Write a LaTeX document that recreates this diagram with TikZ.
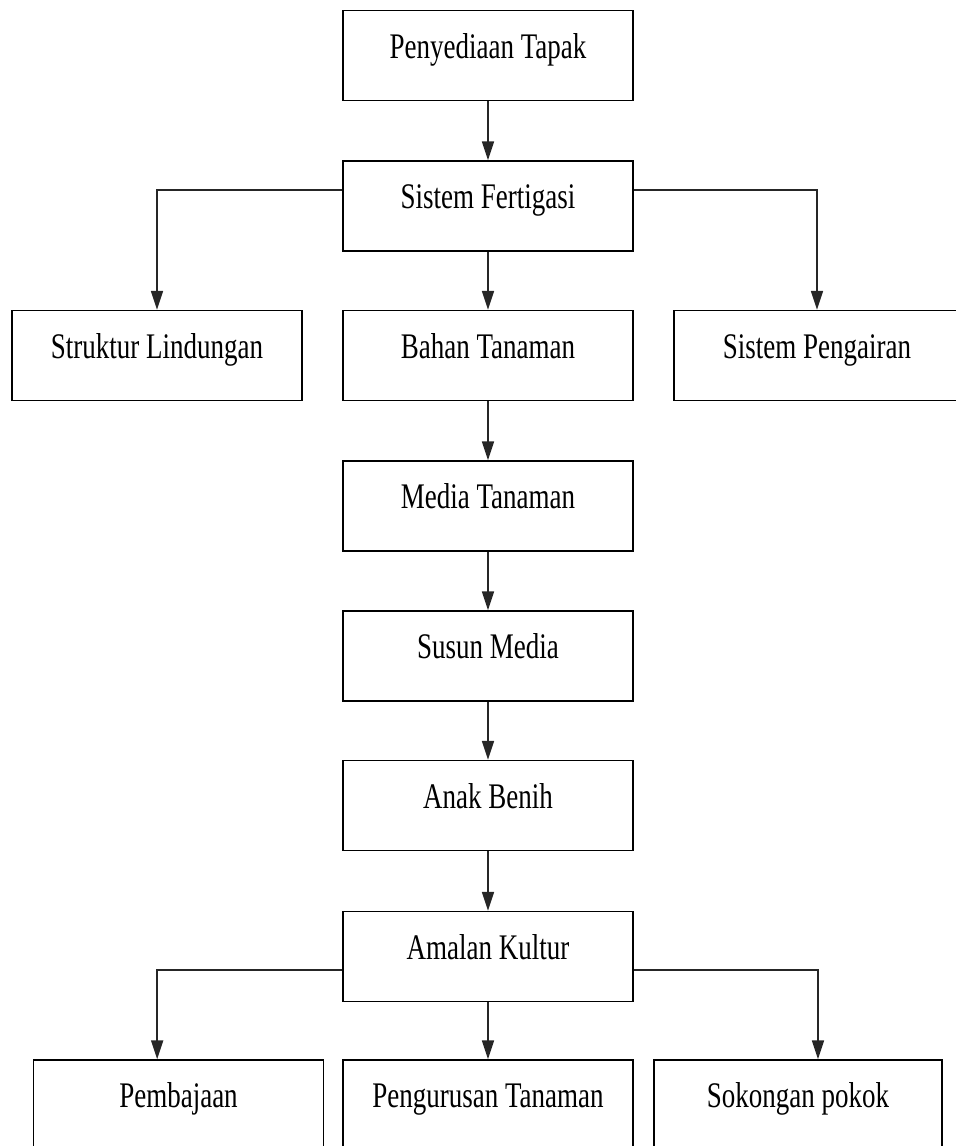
\documentclass[tikz,border=0pt]{standalone}
\usepackage{fontspec}
\setmainfont{Liberation Serif}[FakeStretch=0.75]
\usetikzlibrary{arrows.meta}

\tikzset{every picture/.style={line width=0.75pt}}
\tikzset{
	stagebox/.style={draw, line width=1.3pt, minimum width=217.5pt, minimum height=67.5pt, inner sep=0pt,
		text height=0.7em, text depth=0.3em, font=\fontsize{27pt}{31pt}\selectfont},
	flowarrow/.style={draw=black!85, line width=1.1pt, -{Triangle[length=14pt,width=9pt]}}
}

\begin{document}
\begin{tikzpicture}[x=0.75pt,y=0.75pt,yscale=-1,xscale=1]
	\useasboundingbox (0,0) rectangle (956,1146);

	% Main column
	\node [stagebox] (tapak) at (488,55.5) {Penyediaan Tapak};
	\node [stagebox] (fertigasi) at (488,206) {Sistem Fertigasi};
	\node [stagebox] (bahan) at (488,355.5) {Bahan Tanaman};
	\node [stagebox] (media) at (488,506) {Media Tanaman};
	\node [stagebox] (susun) at (488,656) {Susun Media};
	\node [stagebox] (anak) at (488,805.5) {Anak Benih};
	\node [stagebox] (amalan) at (488,956.5) {Amalan Kultur};

	% Side boxes, first level
	\node [stagebox] (struktur) at (157,355.5) {Struktur Lindungan};
	\node [stagebox, minimum width=214.5pt] (pengairan) at (817,355.5) {Sistem Pengairan};

	% Bottom row
	\node [stagebox] (pembajaan) at (178.5,1105) {Pembajaan};
	\node [stagebox] (pengurusan) at (488,1105) {Pengurusan Tanaman};
	\node [stagebox, minimum width=216pt] (sokongan) at (798,1105) {Sokongan pokok};

	% Connectors
	\draw [flowarrow] (tapak) -- (fertigasi);
	\draw [flowarrow] (fertigasi) -- (bahan);
	\draw [flowarrow] ([yshift=-12pt]fertigasi.west) -| (struktur.north);
	\draw [flowarrow] ([yshift=-12pt]fertigasi.east) -| (pengairan.north);
	\draw [flowarrow] (bahan) -- (media);
	\draw [flowarrow] (media) -- (susun);
	\draw [flowarrow] (susun) -- (anak);
	\draw [flowarrow] (anak) -- (amalan);
	\draw [flowarrow] (amalan) -- (pengurusan);
	\draw [flowarrow] ([yshift=10pt]amalan.west) -| ([xshift=-16pt]pembajaan.north);
	\draw [flowarrow] ([yshift=10pt]amalan.east) -| ([xshift=15pt]sokongan.north);

\end{tikzpicture}
\end{document}
